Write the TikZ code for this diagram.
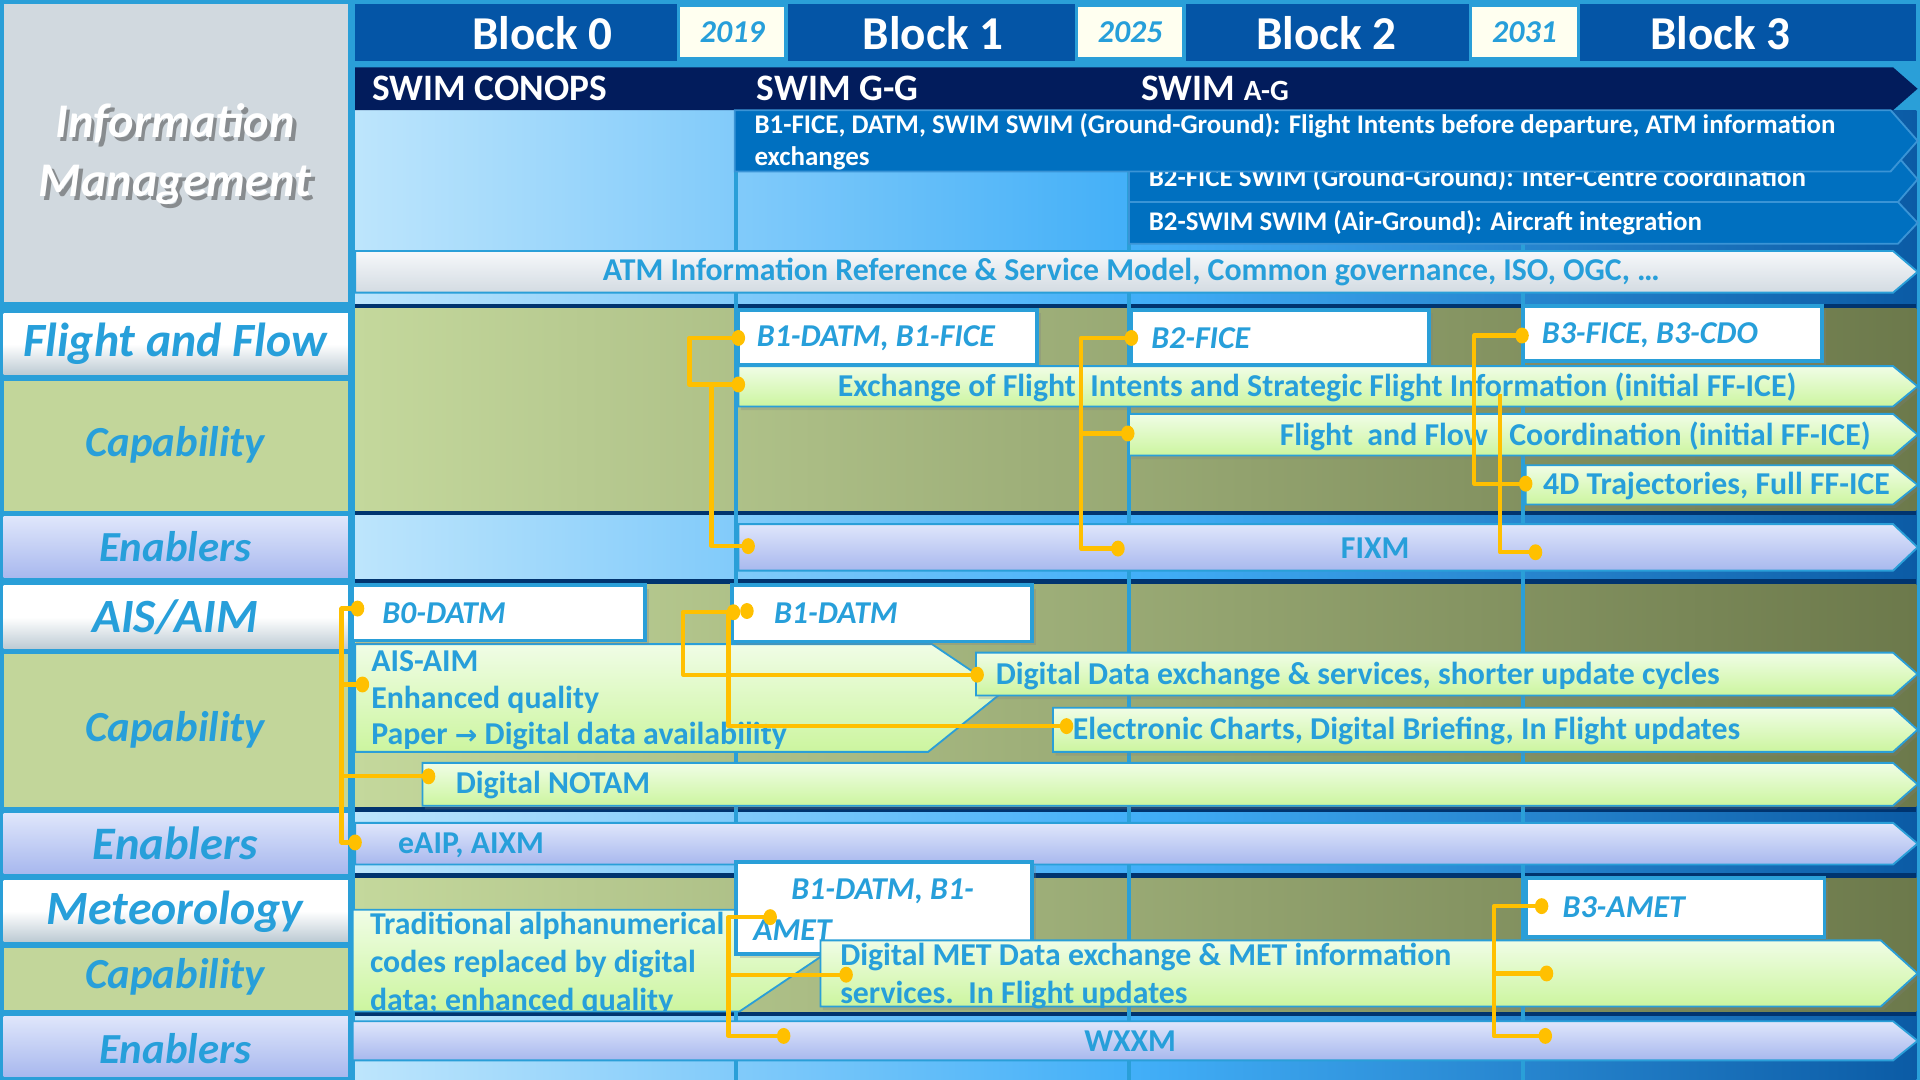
\documentclass[tikz,border=0pt]{standalone}
\usepackage{fontspec}
\setmainfont{Carlito}
\newfontfamily\djv{DejaVu Sans}
\usetikzlibrary{shadows}
\definecolor{bdr}{HTML}{2A9FD8}
\definecolor{txtb}{HTML}{279FDA}
\definecolor{hdr}{HTML}{0455A6}
\definecolor{navy}{HTML}{021C5C}
\definecolor{imarr}{HTML}{0070C0}
\definecolor{imedge}{HTML}{3A94D6}
\definecolor{ylw}{HTML}{FFC000}
\definecolor{sepc}{HTML}{00346F}
\definecolor{ivory}{HTML}{FFFFF0}
\definecolor{lgrey}{HTML}{D1D9DF}
\definecolor{olv}{HTML}{C2D69A}
\definecolor{olvl}{HTML}{C4D89C}
\definecolor{olvr}{HTML}{6C794B}
\definecolor{bgl}{HTML}{BDE5FC}
\definecolor{bgm}{HTML}{42AFF8}
\definecolor{bgr}{HTML}{0B5BA5}
\definecolor{grt}{HTML}{F0FDE6}
\definecolor{grb}{HTML}{CCF59F}
\definecolor{lvt}{HTML}{DFE6FB}
\definecolor{lvb}{HTML}{A8B8EE}
\definecolor{atmt}{HTML}{F6F8FA}
\definecolor{atmb}{HTML}{D3DBE2}
\definecolor{cellb}{HTML}{BCCAD3}
\newcommand{\arrowpath}[6]{\path[#1] (#2,#3) -- ({#4-#6},#3) -- (#4,{(#3+#5)/2}) -- ({#4-#6},#5) -- (#2,#5) -- cycle;}
\tikzset{
 hdrtxt/.style={font=\bfseries\fontsize{38.5}{40}\selectfont, text=white, inner sep=0},
 yearbox/.style={draw=bdr, line width=3, fill=ivory, minimum width=88, minimum height=44, font=\bfseries\itshape\fontsize{26}{28}\selectfont, text=txtb, inner sep=0},
 swimtxt/.style={font=\bfseries\fontsize{30.5}{32}\selectfont, text=white, anchor=west, inner sep=0},
 imtxt/.style={font=\bfseries\fontsize{22}{26}\selectfont, text=white, anchor=west, inner sep=0},
 lbl/.style={font=\bfseries\itshape\fontsize{35}{38}\selectfont, text=txtb, inner sep=0},
 lblbig/.style={lbl, font=\bfseries\itshape\fontsize{39}{42}\selectfont},
 blk/.style={font=\bfseries\itshape\fontsize{26}{28}\selectfont, text=txtb, anchor=west, inner sep=0},
 captxt/.style={font=\bfseries\fontsize{26}{30}\selectfont, text=txtb, anchor=west, inner sep=0},
 capc/.style={captxt, anchor=center},
 greenarr/.style={top color=grt, bottom color=grb, draw=bdr, line width=1.5, drop shadow={shadow xshift=2pt, shadow yshift=-3pt, opacity=0.25}},
 lavarr/.style={top color=lvt, bottom color=lvb, draw=bdr, line width=1.5},
 atmarr/.style={top color=atmt, bottom color=atmb, draw=bdr, line width=1.5},
 imarrow/.style={fill=imarr, draw=imedge, line width=1.5},
 whitebox/.style={fill=white, draw=bdr, line width=3, drop shadow={shadow xshift=3pt, shadow yshift=-3pt, opacity=0.3}},
 whitecell/.style={top color=white, bottom color=cellb, middle color=white},
 lavcell/.style={top color=lvt, bottom color=lvb},
 conn/.style={draw=ylw, line width=3.5, line join=round},
 sepline/.style={draw=sepc, line width=3.5},
 gridl/.style={draw=bdr, line width=3.5},
}
\begin{document}
\begin{tikzpicture}[x=1pt,y=-1pt]
\useasboundingbox (0,0) rectangle (1568,882);
\fill[bdr] (0,0) rectangle (1568,882);
% ---------- left column ----------
\fill[lgrey] (3,3) rectangle (284,247);
\node[font=\bfseries\itshape\fontsize{39.5}{48}\selectfont, text=black!75, opacity=.5, align=center] at (146,129) {Information\\Management};
\node[font=\bfseries\itshape\fontsize{39.5}{48}\selectfont, text=white, align=center] (imlabel) at (143,126) {Information\\Management};
\path[whitecell] (3,256) rectangle (284,306);
\node[lblbig] (lff) at (143,281) {Flight and Flow};
\fill[olv] (3,311) rectangle (284,417);
\node[lbl] (lcap1) at (143,363) {Capability};
\path[lavcell] (3,422) rectangle (284,472);
\node[lbl] (len1) at (143,446) {Enablers};
\path[whitecell] (3,478) rectangle (284,530);
\node[lblbig] (lais) at (143,504) {AIS/AIM};
\fill[olv] (3,534) rectangle (284,659);
\node[lbl] (lcap2) at (143,596) {Capability};
\path[lavcell] (3,664) rectangle (284,713);
\node[lbl, font=\bfseries\itshape\fontsize{38}{40}\selectfont] (len2) at (143,689) {Enablers};
\path[whitecell] (3,719) rectangle (284,769);
\node[lblbig] (lmet) at (143,745) {Meteorology};
\fill[olv] (3,774) rectangle (284,825);
\node[lbl] (lcap3) at (143,798) {Capability};
\path[lavcell] (3,830) rectangle (284,879);
\node[lbl] (len3) at (143,856) {Enablers};
% ---------- right backgrounds ----------
\shade[left color=bgl, right color=bgr, middle color=bgm] (290,90) rectangle (1565,882);
\shade[left color=olvl, right color=olvr] (290,252) rectangle (1565,417);
\shade[left color=olvl, right color=olvr] (290,477) rectangle (1565,659);
\shade[left color=olvl, right color=olvr] (290,717) rectangle (1565,826);
\foreach \ya in {250,419,475,661,715,828} \draw[sepline] (290,\ya) -- (1565,\ya);
\foreach \xa in {601,922,1244} \draw[gridl] (\xa,90) -- (\xa,882);
% ---------- header ----------
\fill[hdr] (290,3) rectangle (1565,50);
\node[hdrtxt] (b0) at (443,27) {Block 0};
\node[hdrtxt] (b1) at (762,27) {Block 1};
\node[hdrtxt] (b2) at (1083,27) {Block 2};
\node[hdrtxt] (b3) at (1405,27) {Block 3};
\node[yearbox] (y19) at (598,26) {2019};
\node[yearbox] (y25) at (923,26) {2025};
\node[yearbox] (y31) at (1245,26) {2031};
\arrowpath{fill=navy}{290}{55}{1566}{90}{20}
\node[swimtxt] (s0) at (304,72) {SWIM CONOPS};
\node[swimtxt] (s1) at (618,72) {SWIM G-G};
\node[swimtxt] (s2) at (932,72) {SWIM {\fontsize{24}{26}\selectfont A-G}};
% ---------- information management ----------
\arrowpath{imarrow}{922}{128}{1566}{165}{16}
\node[imtxt] (im2) at (938,146) {B2-FICE SWIM (Ground-Ground): Inter-Centre coordination};
\arrowpath{imarrow}{922}{165}{1566}{199}{16}
\node[imtxt] (im3) at (938,182) {B2-SWIM SWIM (Air-Ground): Aircraft integration};
\arrowpath{imarrow}{600}{90}{1566}{140}{22}
\node[imtxt, align=left] (im1) at (616,116) {B1-FICE, DATM, SWIM SWIM (Ground-Ground): Flight Intents before departure, ATM information\\exchanges};
\arrowpath{atmarr}{290}{205}{1566}{239}{20}
\node[capc] (atm) at (924,222) {ATM Information Reference \& Service Model, Common governance, ISO, OGC, \dots};
% ---------- flight and flow ----------
\path[whitebox] (603,253) rectangle (847,298);
\node[blk] (fb1) at (618,276) {B1-DATM, B1-FICE};
\path[whitebox] (924,253) rectangle (1167,298);
\node[blk] (fb2) at (940,276) {B2-FICE};
\path[whitebox] (1244,250) rectangle (1488,295);
\node[blk] (fb3) at (1259,274) {B3-FICE, B3-CDO};
\arrowpath{greenarr}{603}{299}{1566}{332}{20}
\node[captxt] (fex) at (684,316) {Exchange of Flight\ \ Intents and Strategic Flight Information (initial FF-ICE)};
\arrowpath{greenarr}{922}{338}{1566}{372}{20}
\node[captxt] (fco) at (1045,356) {Flight\ \ and Flow\ \ \ Coordination (initial FF-ICE)};
\arrowpath{greenarr}{1246}{380}{1566}{412}{20}
\node[captxt] (f4d) at (1260,397) {4D Trajectories, Full FF-ICE};
\arrowpath{lavarr}{603}{428}{1566}{466}{20}
\node[capc] (fixm) at (1123,448) {FIXM};
% ---------- AIS / AIM ----------
\path[top color=grt, bottom color=grb, draw=bdr, line width=1.5] (290,526) -- (761,526) -- (819,565) -- (758,614) -- (290,614) -- cycle;
\node[captxt, align=left] (aisaim) at (303,572) {AIS-AIM\\Enhanced quality\\Paper {\djv\bfseries\fontsize{22}{22}\selectfont →} Digital data availability};
\path[whitebox] (288,478) rectangle (527,523);
\node[blk] (ab0) at (312,501) {B0-DATM};
\path[whitebox] (598,478) rectangle (843,524);
\node[blk] (ab1) at (632,501) {B1-DATM};
\arrowpath{greenarr}{797}{533}{1566}{568}{20}
\node[captxt] (add) at (813,552) {Digital Data exchange \& services, shorter update cycles};
\arrowpath{greenarr}{860}{578}{1566}{614}{20}
\node[captxt] (aec) at (876,597) {Electronic Charts, Digital Briefing, In Flight updates};
\arrowpath{greenarr}{345}{623}{1566}{658}{20}
\node[captxt] (anot) at (372,641) {Digital NOTAM};
\arrowpath{lavarr}{290}{672}{1566}{706}{20}
\node[captxt] (aeaip) at (325,690) {eAIP, AIXM};
% ---------- meteorology ----------
\path[top color=grt, bottom color=grb, draw=bdr, line width=1.5] (288,743) -- (648,743) -- (690,768) -- (604,826) -- (288,826) -- cycle;
\begin{scope}
\clip (288,743) rectangle (650,825);
\node[captxt, align=left, font=\bfseries\fontsize{26}{31}\selectfont] (mtrad) at (302,787) {Traditional alphanumerical\\codes replaced by digital\\data; enhanced quality};
\end{scope}
\path[whitebox] (601,704) rectangle (843,779);
\node[blk] (mb1a) at (646,728) {B1-DATM, B1-};
\node[blk] (mb1b) at (615,760) {AMET};
\arrowpath{greenarr}{670}{768}{1566}{822}{30}
\node[captxt, align=left, font=\bfseries\fontsize{26}{31}\selectfont] (mdig) at (686,797) {Digital MET Data exchange \& MET information\\services.\ \ In Flight updates};
\path[whitebox] (1246,717) rectangle (1490,765);
\node[blk] (mb3) at (1276,741) {B3-AMET};
\arrowpath{lavarr}{288}{834}{1566}{866}{20}
\node[capc] (wxxm) at (923,850) {WXXM};
% ---------- connectors ----------
\coordinate (f1a) at (603,276); \coordinate (f1b) at (603,314); \coordinate (f1c) at (611,446); \coordinate (f1v) at (581,0);
\coordinate (f2a) at (924,276); \coordinate (f2b) at (921,354); \coordinate (f2c) at (913,448); \coordinate (f2v) at (883,0);
\coordinate (f3a) at (1243,274); \coordinate (f3b) at (1246,395); \coordinate (f3c) at (1254,451); \coordinate (f3t) at (1225,322);
\coordinate (a0a) at (292,497); \coordinate (a0b) at (296,559); \coordinate (a0c) at (350,634); \coordinate (a0d) at (290,688); \coordinate (a0v) at (279,0);
\coordinate (a1a) at (599,500); \coordinate (a1s) at (610,499); \coordinate (a1b) at (798,551); \coordinate (a1c) at (871,593); \coordinate (a1v) at (595,0);
\coordinate (m1a) at (629,749); \coordinate (m1b) at (691,796); \coordinate (m1c) at (640,846); \coordinate (m1v) at (595,0);
\coordinate (m3a) at (1259,740); \coordinate (m3b) at (1263,795); \coordinate (m3c) at (1262,846); \coordinate (m3v) at (1220,0);
\draw[conn] (f1a) -- ++(-40,0) |- (f1b);
\draw[conn] (f1b -| f1v) |- (f1c);
\draw[conn] (f2a) -- (f2a -| f2v) |- (f2c);
\draw[conn] (f2b -| f2v) -- (f2b);
\draw[conn] (f3a) -- ++(-39,0) |- (f3b);
\draw[conn] (f3t) |- (f3c);
\draw[conn] (a0a) -- (a0a -| a0v) |- (a0d);
\draw[conn] (a0b -| a0v) -- (a0b);
\draw[conn] (a0c -| a0v) -- (a0c);
\draw[conn] (a1a) -- ++(-41,0) |- (a1b);
\draw[conn] (a1a -| a1v) |- (a1c);
\draw[conn] (m1a) -- (m1a -| m1v) |- (m1c);
\draw[conn] (m1b -| m1v) -- (m1b);
\draw[conn] (m3a) -- (m3a -| m3v) |- (m3c);
\draw[conn] (m3b -| m3v) -- (m3b);
\foreach \p in {f1a,f1b,f1c,f2a,f2b,f2c,f3a,f3b,f3c,a0a,a0b,a0c,a0d,a1s,a1a,a1b,a1c,m1a,m1b,m1c,m3a,m3b,m3c}
  \fill[ylw] (\p) ellipse (5.5pt and 6.5pt);
\end{tikzpicture}
\end{document}
